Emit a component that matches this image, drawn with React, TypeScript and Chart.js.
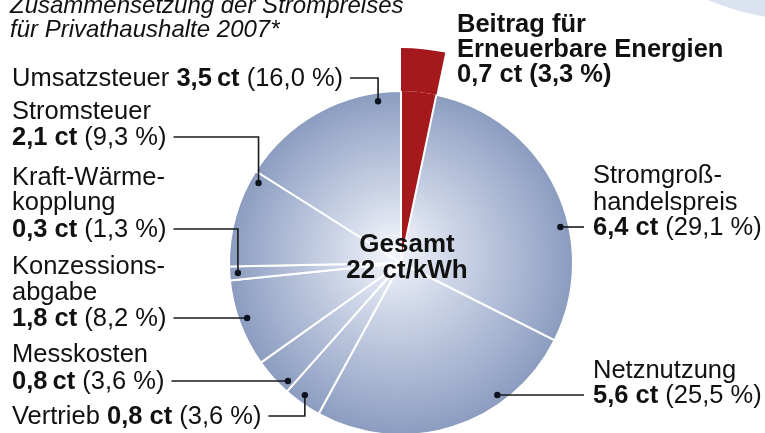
import React, { useEffect, useRef } from 'react';
import { Chart, registerables } from 'chart.js';

Chart.register(...registerables);

// ---------------- data ----------------
const categories = [
  'Beitrag für\nErneuerbare Energien',
  'Stromgroß-\nhandelspreis',
  'Netznutzung',
  'Vertrieb',
  'Messkosten',
  'Konzessions-\nabgabe',
  'Kraft-Wärme-\nkopplung',
  'Stromsteuer',
  'Umsatzsteuer',
];
const centValues = [0.7, 6.4, 5.6, 0.8, 0.8, 1.8, 0.3, 2.1, 3.5];
const percentValues = [3.3, 29.1, 25.5, 3.6, 3.6, 8.2, 1.3, 9.3, 16.0];
const centGaps = [' ', ' ', ' ', ' ', '\u2009', ' ', ' ', ' ', '\u2009'];
const titleLines = ['Zusammensetzung der Strompreises', 'für Privathaushalte 2007*'];
const totalLines = ['Gesamt', '22 ct/kWh'];

// ---------------- style / layout ----------------
const FONT = '"Liberation Sans", Arial, Helvetica, sans-serif';
const SIZE = 25.5;
const CENTER_SIZE = 26;
const TEXT = '#111111';
const RED = '#a5181c';

type Spec = {
  i: number;
  x: number;
  side: 'left' | 'right';
  inline: boolean;
  baselines: number[];
  leader: 'elbow' | 'straight' | 'none';
  frac?: number;
  allBold?: boolean;
};

const labelSpecs: Spec[] = [
  { i: 8, x: 12, side: 'left', inline: true, baselines: [86], leader: 'elbow', frac: 0.86 },
  { i: 7, x: 12, side: 'left', inline: false, baselines: [119, 145], leader: 'elbow', frac: 0.91 },
  { i: 6, x: 12, side: 'left', inline: false, baselines: [185, 210, 237], leader: 'elbow', frac: 0.5 },
  { i: 5, x: 12, side: 'left', inline: false, baselines: [274, 300, 326], leader: 'straight' },
  { i: 4, x: 12, side: 'left', inline: false, baselines: [362, 389], leader: 'straight' },
  { i: 3, x: 12, side: 'left', inline: true, baselines: [424], leader: 'elbow', frac: 0.57 },
  { i: 1, x: 593, side: 'right', inline: false, baselines: [183, 210, 235], leader: 'straight' },
  { i: 2, x: 593, side: 'right', inline: false, baselines: [378, 403], leader: 'straight' },
  { i: 0, x: 457, side: 'right', inline: false, baselines: [32, 57, 82], leader: 'none', allBold: true },
];

const fmt = (v: number) => v.toFixed(1).replace('.', ',');

function blueFill(chart: any) {
  const area = chart.chartArea;
  if (!area) return '#a9b6d2';
  const cx = (area.left + area.right) / 2;
  const cy = (area.top + area.bottom) / 2;
  const r = (Math.min(area.width, area.height) / 2) * 0.8;
  const g = chart.ctx.createRadialGradient(cx - r * 0.05, cy - r * 0.08, 0, cx, cy, r);
  g.addColorStop(0, '#f4f6fb');
  g.addColorStop(0.35, '#cdd5e7');
  g.addColorStop(0.75, '#a5b3d0');
  g.addColorStop(1, '#8b9cbf');
  return g;
}

function drawSegments(ctx: CanvasRenderingContext2D, segs: { t: string; b: boolean }[], x: number, y: number, size = SIZE) {
  let cx = x;
  for (const s of segs) {
    ctx.font = `${s.b ? 'bold ' : ''}${size}px ${FONT}`;
    ctx.fillText(s.t, cx, y);
    cx += ctx.measureText(s.t).width;
  }
  return cx;
}

const overlayPlugin = {
  id: 'overlay',
  beforeDraw(chart: any) {
    const ctx: CanvasRenderingContext2D = chart.ctx;
    ctx.save();
    ctx.fillStyle = '#dbe2f0';
    ctx.beginPath();
    ctx.arc(806, -232, 252, 0, Math.PI * 2);
    ctx.fill();
    ctx.restore();
  },
  afterDraw(chart: any) {
    const ctx: CanvasRenderingContext2D = chart.ctx;
    const meta = chart.getDatasetMeta(1);
    const arcs = meta.data as any[];
    const cx = arcs[0].x;
    const cy = arcs[0].y;
    const R = arcs[0].outerRadius;
    const rDot = R * 0.95;

    ctx.save();
    ctx.fillStyle = TEXT;
    ctx.textBaseline = 'alphabetic';
    ctx.textAlign = 'left';

    // title
    ctx.font = `italic 24px ${FONT}`;
    ctx.fillText(titleLines[0], 10, 13);
    ctx.fillText(titleLines[1], 10, 37);

    // center text
    ctx.font = `bold ${CENTER_SIZE}px ${FONT}`;
    ctx.textAlign = 'center';
    ctx.fillText(totalLines[0], cx + 6, cy - 11);
    ctx.fillText(totalLines[1], cx + 6, cy + 15);
    ctx.textAlign = 'left';

    for (const s of labelSpecs) {
      const names = categories[s.i].split('\n');
      const valueSegs = [
        { t: fmt(centValues[s.i]) + centGaps[s.i] + 'ct', b: true },
        { t: ' (' + fmt(percentValues[s.i]) + ' %)', b: !!s.allBold },
      ];
      let endX = s.x;
      let lineY = 0;
      if (s.inline) {
        endX = drawSegments(ctx, [{ t: names[0] + ' ', b: false }, ...valueSegs], s.x, s.baselines[0]);
        lineY = s.baselines[0] - 8;
      } else {
        names.forEach((n, k) => drawSegments(ctx, [{ t: n, b: !!s.allBold }], s.x, s.baselines[k]));
        const vb = s.baselines[names.length];
        endX = drawSegments(ctx, valueSegs, s.x, vb);
        lineY = vb - 8;
      }
      if (s.leader === 'none') continue;

      const arc = arcs[s.i];
      let dx: number;
      let dy: number;
      if (s.leader === 'straight') {
        const off = lineY - cy;
        const h = Math.sqrt(Math.max(rDot * rDot - off * off, 0));
        dx = s.side === 'left' ? cx - h : cx + h;
        dy = lineY;
      } else {
        const a = arc.startAngle + (arc.endAngle - arc.startAngle) * (s.frac ?? 0.5);
        dx = cx + rDot * Math.cos(a);
        dy = cy + rDot * Math.sin(a);
      }

      ctx.strokeStyle = '#1a1a1a';
      ctx.lineWidth = 1.6;
      ctx.beginPath();
      if (s.side === 'left') {
        ctx.moveTo(endX + 7, lineY);
      } else {
        ctx.moveTo(s.x - 9, lineY);
      }
      ctx.lineTo(dx, lineY);
      ctx.lineTo(dx, dy);
      ctx.stroke();
      ctx.fillStyle = '#0d1420';
      ctx.beginPath();
      ctx.arc(dx, dy, 3.2, 0, Math.PI * 2);
      ctx.fill();
      ctx.fillStyle = TEXT;
    }
    ctx.restore();
  },
};

export default function App() {
  const ref = useRef<HTMLCanvasElement | null>(null);
  useEffect(() => {
    if (!ref.current) return;
    const chart = new Chart(ref.current, {
      type: 'pie',
      data: {
        labels: categories,
        datasets: [
          {
            data: percentValues,
            backgroundColor: (c: any) => (c.dataIndex === 0 ? RED : 'rgba(0,0,0,0)'),
            borderWidth: 0,
            weight: 0.2,
          } as any,
          {
            data: percentValues,
            backgroundColor: (c: any) => (c.dataIndex === 0 ? RED : blueFill(c.chart)),
            borderColor: '#ffffff',
            borderWidth: (c: any) => (c.dataIndex === 0 ? 0 : 2),
            weight: 0.8,
          } as any,
        ],
      },
      options: {
        responsive: false,
        animation: false,
        devicePixelRatio: 1,
        events: [],
        layout: { padding: { left: 186, right: 149, top: 48, bottom: 22 } },
        plugins: {
          legend: { display: false },
          tooltip: { enabled: false },
        },
      },
      plugins: [overlayPlugin],
    });
    return () => chart.destroy();
  }, []);

  return (
    <div
      style={{
        position: 'fixed',
        left: 0,
        top: 0,
        width: 765,
        height: 433,
        overflow: 'hidden',
        background: '#ffffff',
      }}
    >
      <canvas ref={ref} width={765} height={500} style={{ display: 'block' }} />
    </div>
  );
}
